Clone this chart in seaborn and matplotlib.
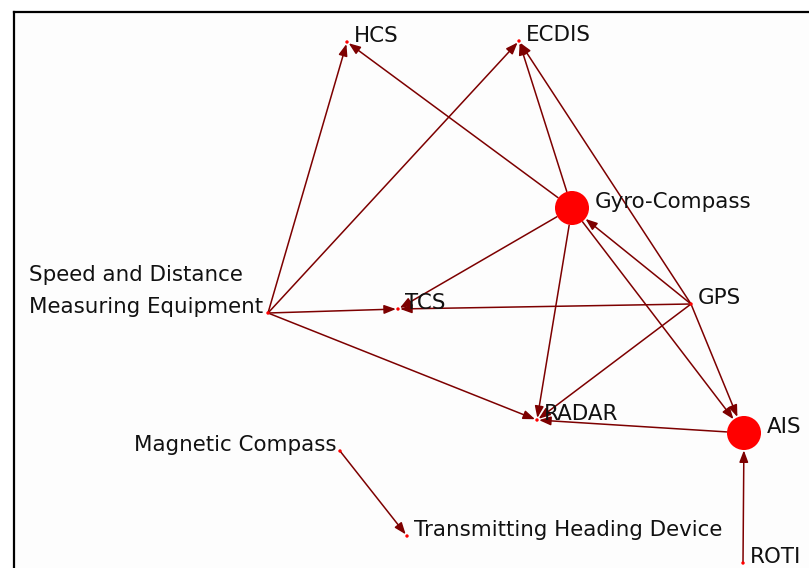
import matplotlib
matplotlib.use("Agg")
import matplotlib.pyplot as plt
import seaborn as sns
import pandas as pd

# Node data (layout positions in picture coordinates, y grows downward)
node_names = ["HCS", "ECDIS", "Gyro-Compass", "Speed and Distance\nMeasuring Equipment",
              "TCS", "GPS", "RADAR", "AIS", "Magnetic Compass",
              "Transmitting Heading Device", "ROTI"]
node_x = [347, 519, 572, 268, 398, 691, 537, 744, 340, 407, 743]
node_y = [42, 41, 208, 313, 309, 304, 420, 433, 451, 536, 563]
node_big = [False, False, True, False, False, False, False, True, False, False, False]

# Directed edges (source, target)
edge_src = ["Speed and Distance\nMeasuring Equipment"] * 4 + ["Gyro-Compass"] * 5 + ["GPS"] * 5 + \
           ["AIS", "ROTI", "Magnetic Compass"]
edge_dst = ["HCS", "ECDIS", "TCS", "RADAR",
            "HCS", "ECDIS", "TCS", "RADAR", "AIS",
            "ECDIS", "Gyro-Compass", "TCS", "RADAR", "AIS",
            "RADAR", "AIS", "Transmitting Heading Device"]

nodes = pd.DataFrame({"name": node_names, "x": node_x, "y": node_y, "big": node_big})
nodes["size"] = nodes["big"].map({True: 600, False: 6})
pos = {n: (x, y) for n, x, y in zip(node_names, node_x, node_y)}
big = dict(zip(node_names, node_big))

sns.set_style("white")
plt.rcParams["font.family"] = ["DejaVu Sans"]

fig = plt.figure(figsize=(8.09, 5.68), dpi=100)
ax = fig.add_axes([14 / 809, 0, 1 - 14 / 809, (568 - 12) / 568])
ax.set_facecolor("#fdfdfd")
ax.set_xlim(14, 809)
ax.set_ylim(568, 12)
for side in ["right", "bottom"]:
    ax.spines[side].set_visible(False)
for side in ["left", "top"]:
    ax.spines[side].set_color("black")
    ax.spines[side].set_linewidth(1.6)
ax.set_xticks([])
ax.set_yticks([])

edge_color = "#7d0000"
for s, d in zip(edge_src, edge_dst):
    ax.annotate("", xy=pos[d], xytext=pos[s],
                arrowprops=dict(arrowstyle="-|>,head_length=0.5,head_width=0.19",
                                mutation_scale=14, color=edge_color, lw=1.1,
                                shrinkA=12.5 if big[s] else 0,
                                shrinkB=12.5 if big[d] else 1.5),
                zorder=2)

sns.scatterplot(data=nodes, x="x", y="y", size="size", sizes=(6, 600),
                color="#ff0000", edgecolor="none", legend=False, ax=ax, zorder=3)
ax.set_xlabel("")
ax.set_ylabel("")

fs = 15.4
for n, x, y, b in zip(node_names, node_x, node_y, node_big):
    if n.startswith("Speed"):
        ax.text(x - 5, y, n, ha="right", va="baseline", fontsize=fs,
                multialignment="left", linespacing=1.75, color="#111111", zorder=4)
    elif n == "Magnetic Compass":
        ax.text(x - 3, y, n, ha="right", va="baseline", fontsize=fs,
                color="#111111", zorder=4)
    else:
        ax.text(x + (23 if b else 7), y, n, ha="left", va="baseline", fontsize=fs,
                color="#111111", zorder=4)

fig.savefig("out.png", dpi=100)
